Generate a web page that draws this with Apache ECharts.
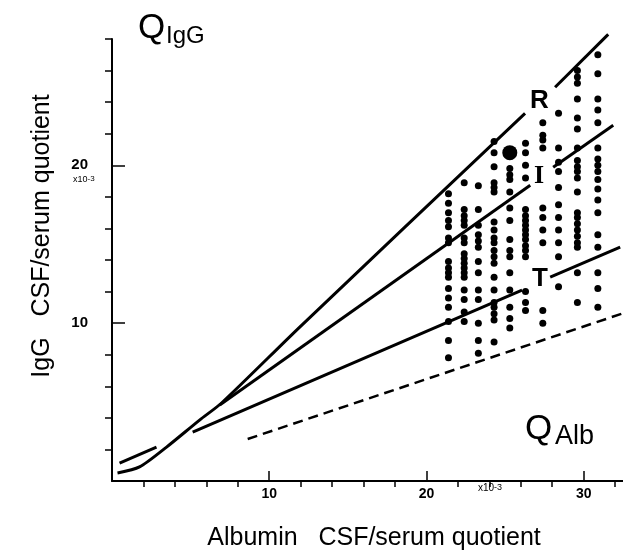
<!DOCTYPE html>
<html>
<head>
<meta charset="utf-8">
<script src="https://cdn.jsdelivr.net/npm/echarts@6/dist/echarts.min.js"></script>
<style>
  html, body { margin: 0; padding: 0; background: #fff; }
  #chart { width: 623px; height: 553px; }
</style>
</head>
<body>
<div id="chart"></div>
<script>
// albumin quotient (x10^-3) of each column of patient dots
var colX = [21.4, 22.4, 23.3, 24.3, 25.3, 26.3, 27.4, 28.4, 29.6, 30.9]
// IgG quotient (x10^-3) of the dots in each column
var colY = [
    [18.2, 17.6, 17.0, 16.5, 16.1, 15.4, 15.1, 13.9, 13.5, 13.2, 12.9, 12.2, 11.6, 11.0, 10.1, 8.9, 7.8],
    [18.9, 17.2, 16.8, 16.5, 16.2, 15.4, 15.1, 14.4, 14.1, 13.8, 13.5, 13.2, 12.9, 12.1, 11.5, 10.7, 10.1],
    [18.7, 17.2, 16.2, 15.6, 15.2, 14.8, 13.9, 13.2, 12.1, 11.5, 10.0, 8.9, 8.1],
    [21.5, 20.8, 19.9, 18.9, 18.6, 18.3, 16.4, 15.9, 15.4, 15.1, 14.6, 14.2, 13.8, 12.9, 12.1, 11.3, 11.0, 10.6, 10.2, 8.8],
    [19.8, 19.4, 19.1, 18.3, 17.3, 16.5, 15.3, 14.6, 14.2, 13.2, 12.1, 11.0, 10.3, 9.7],
    [21.4, 20.8, 20.0, 19.2, 17.2, 16.8, 16.5, 16.2, 15.9, 15.6, 15.3, 14.9, 14.6, 14.2, 12.0, 11.3, 10.8],
    [22.7, 21.9, 21.6, 21.1, 17.3, 16.7, 15.9, 15.1, 10.8, 10.0],
    [23.3, 21.1, 20.2, 19.6, 18.6, 17.5, 16.7, 15.9, 15.1, 14.2, 12.3],
    [26.0, 25.6, 25.2, 24.2, 23.0, 22.3, 21.1, 20.3, 19.9, 19.6, 19.2, 18.3, 17.0, 16.7, 16.3, 15.9, 15.5, 15.1, 14.8, 13.2, 11.3],
    [27.0, 25.8, 24.2, 23.5, 22.7, 21.1, 20.4, 20.0, 19.6, 19.1, 18.5, 17.8, 17.0, 15.6, 14.8, 13.2, 12.2, 11.0]
]
var bigDot = [[25.3, 20.8]]

// boundary lines
var lineR1 = [[0.35, 0.51], [1.75, 0.89], [3.47, 2.15], [5.57, 3.86], [6.97, 4.94], [11.94, 9.75], [26.27, 23.29]]
var lineR2 = [[28.18, 24.94], [31.56, 28.29]]
var lineI1 = [[6.85, 4.81], [26.6, 18.73]]
var lineI2 = [[28.06, 19.87], [31.88, 22.53]]
var lineT1 = [[5.13, 3.10], [26.08, 12.09]]
var lineT2 = [[27.87, 12.91], [32.32, 14.81]]
var lineShort = [[0.48, 1.14], [2.83, 2.15]]
var lineDash = [[8.63, 2.66], [32.52, 10.63]]

var xMajor = [10, 20, 30]
var xMinor = [2, 4, 6, 8, 12, 14, 16, 18, 22, 24, 26, 28, 32]
var yMajor = [10, 20]
var yMinor = [2, 4, 6, 8, 12, 14, 16, 18, 22, 24, 26, 28]

var dots = []
colX.forEach(function (x, i) {
    colY[i].forEach(function (y) { dots.push([x, y]) })
})

var chart = echarts.init(document.getElementById('chart'))

function seg(data, dashed) {
    return {
        type: 'line',
        data: data,
        showSymbol: false,
        symbol: 'none',
        clip: false,
        smooth: data.length > 2 ? 0.25 : false,
        silent: true,
        lineStyle: {
            color: '#000',
            width: dashed ? 2.5 : 3,
            type: dashed ? [10, 6] : 'solid'
        },
        z: 3
    }
}

var font = '"Liberation Sans", Arial, sans-serif'

chart.setOption({
    animation: false,
    backgroundColor: '#fff',
    grid: { left: 112, right: 0, top: 39, bottom: 72 },
    xAxis: [{
        type: 'value', min: 0, max: 32.5,
        splitLine: { show: false },
        axisLine: { lineStyle: { color: '#000', width: 2 } },
        axisTick: { inside: true, length: 10, customValues: xMajor, lineStyle: { color: '#000', width: 1.5 } },
        axisLabel: { customValues: xMajor, color: '#000', fontSize: 14, fontWeight: 'bold', fontFamily: font, margin: 6 }
    }, {
        type: 'value', min: 0, max: 32.5,
        splitLine: { show: false },
        axisLine: { show: false },
        axisTick: { inside: true, length: 6, customValues: xMinor, lineStyle: { color: '#000', width: 1.5 } },
        axisLabel: { show: false }
    }],
    yAxis: [{
        type: 'value', min: 0, max: 28,
        splitLine: { show: false },
        axisLine: { lineStyle: { color: '#000', width: 2 } },
        axisTick: { inside: true, length: 13, customValues: yMajor, lineStyle: { color: '#000', width: 1.5 } },
        axisLabel: { customValues: yMajor, color: '#000', fontSize: 15, fontWeight: 'bold', fontFamily: font, margin: 24 }
    }, {
        type: 'value', min: 0, max: 28,
        splitLine: { show: false },
        axisLine: { show: false },
        axisTick: { inside: true, length: 7, customValues: yMinor, lineStyle: { color: '#000', width: 1.5 } },
        axisLabel: { show: false }
    }],
    series: [
        {
            type: 'scatter', data: dots, symbolSize: 7, silent: true,
            itemStyle: { color: '#000', opacity: 1 }, z: 4
        },
        {
            type: 'scatter', data: bigDot, symbolSize: 15, silent: true,
            itemStyle: { color: '#000', opacity: 1 }, z: 4
        },
        seg(lineR1), seg(lineR2), seg(lineI1), seg(lineI2),
        seg(lineT1), seg(lineT2), seg(lineShort), seg(lineDash, true)
    ],
    graphic: [
        { type: 'text', left: 138, top: 11, style: { text: 'Q', font: '35px ' + font, fill: '#000' } },
        { type: 'text', left: 166, top: 24, style: { text: 'IgG', font: '24px ' + font, fill: '#000' } },
        { type: 'text', left: 525, top: 412, style: { text: 'Q', font: '35px ' + font, fill: '#000' } },
        { type: 'text', left: 555, top: 423, style: { text: 'Alb', font: '27px ' + font, fill: '#000' } },
        { type: 'text', left: 530, top: 88, style: { text: 'R', font: 'bold 26px ' + font, fill: '#000' } },
        { type: 'text', left: 534, top: 163, style: { text: 'I', font: 'bold 26px "Liberation Serif", serif', fill: '#000' } },
        { type: 'text', left: 532, top: 266, style: { text: 'T', font: 'bold 26px ' + font, fill: '#000' } },
        {
            type: 'text', left: 73, top: 175,
            style: {
                text: '{a|x10}{b|-3}',
                rich: { a: { fontSize: 9, fontFamily: font, fill: '#000' }, b: { fontSize: 8, fontFamily: font, verticalAlign: 'top', fill: '#000' } }
            }
        },
        {
            type: 'text', left: 478, top: 483,
            style: {
                text: '{a|x10}{b|-3}',
                rich: { a: { fontSize: 10, fontFamily: font, fill: '#000' }, b: { fontSize: 9, fontFamily: font, verticalAlign: 'top', fill: '#000' } }
            }
        },
        {
            type: 'text', x: 374, y: 538,
            style: { text: 'Albumin   CSF/serum quotient', font: '25px ' + font, fill: '#000', align: 'center', verticalAlign: 'middle' }
        },
        {
            type: 'text', x: 42, y: 236, rotation: Math.PI / 2,
            style: { text: 'IgG   CSF/serum quotient', font: '25px ' + font, fill: '#000', align: 'center', verticalAlign: 'middle' }
        }
    ]
})
</script>
</body>
</html>
